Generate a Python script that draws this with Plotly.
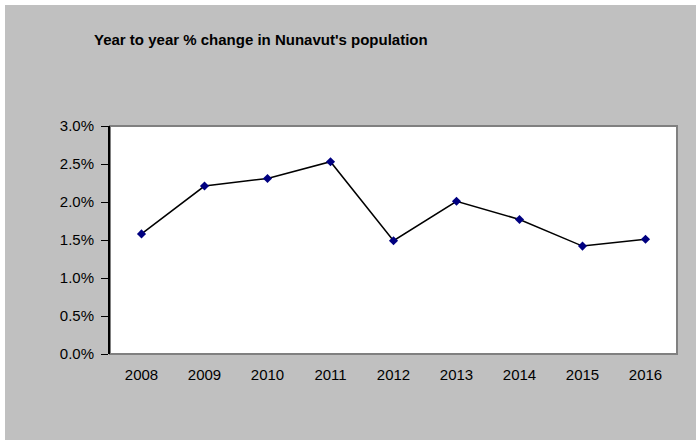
import plotly.graph_objects as go

years = ["2008", "2009", "2010", "2011", "2012", "2013", "2014", "2015", "2016"]
pct_change = [1.58, 2.21, 2.31, 2.53, 1.49, 2.01, 1.77, 1.42, 1.51]
y_ticks = [0.0, 0.5, 1.0, 1.5, 2.0, 2.5, 3.0]
title_text = "Year to year % change in Nunavut's population"

W, H = 696, 440
L, R, T, B = 110, 19, 126, 86
pw, ph = W - L - R, H - T - B

def px_x(x):
    return (x - L) / pw

def px_y(y):
    return (H - B - y) / ph

fig = go.Figure()
fig.add_trace(go.Scatter(
    x=years, y=pct_change, mode="lines+markers",
    line=dict(color="black", width=1.5),
    marker=dict(symbol="diamond", size=7, color="#000080"),
    hoverinfo="x+y",
))

fig.update_layout(
    width=W, height=H,
    margin=dict(l=L, r=R, t=T, b=B, pad=0),
    paper_bgcolor="white",
    plot_bgcolor="white",
    showlegend=False,
    font=dict(family="Arial, Liberation Sans, sans-serif", size=15, color="black"),
    shapes=[
        dict(type="rect", xref="paper", yref="paper", layer="below",
             x0=px_x(5), x1=px_x(W + 5), y0=px_y(H + 5), y1=px_y(5),
             fillcolor="#C0C0C0", line=dict(width=0)),
        dict(type="rect", xref="paper", yref="paper", layer="below",
             x0=0, x1=1, y0=0, y1=1,
             fillcolor="white", line=dict(color="#808080", width=2)),
    ],
    annotations=[
        dict(text="<b>" + title_text + "</b>", xref="paper", yref="paper",
             x=px_x(92), y=px_y(40), xanchor="left", yanchor="middle",
             showarrow=False, font=dict(size=15, color="black")),
    ],
)

fig.update_xaxes(
    type="category", range=[-0.5, len(years) - 0.5],
    showgrid=False, zeroline=False, showline=False,
    ticks="", ticklabelstandoff=10,
    tickfont=dict(size=15),
)
fig.update_yaxes(
    range=[0, 3.0], tickvals=y_ticks,
    ticktext=[f"{v:.1f}%" for v in y_ticks],
    showgrid=False, zeroline=False,
    showline=True, linecolor="black", linewidth=2,
    ticks="outside", ticklen=7, tickcolor="black", tickwidth=1,
    ticklabelstandoff=4,
    tickfont=dict(size=15),
)

fig.write_html(
    "out.html",
    config={"displayModeBar": False},
    post_script="document.body.style.margin='0';document.body.style.padding='0';",
)
